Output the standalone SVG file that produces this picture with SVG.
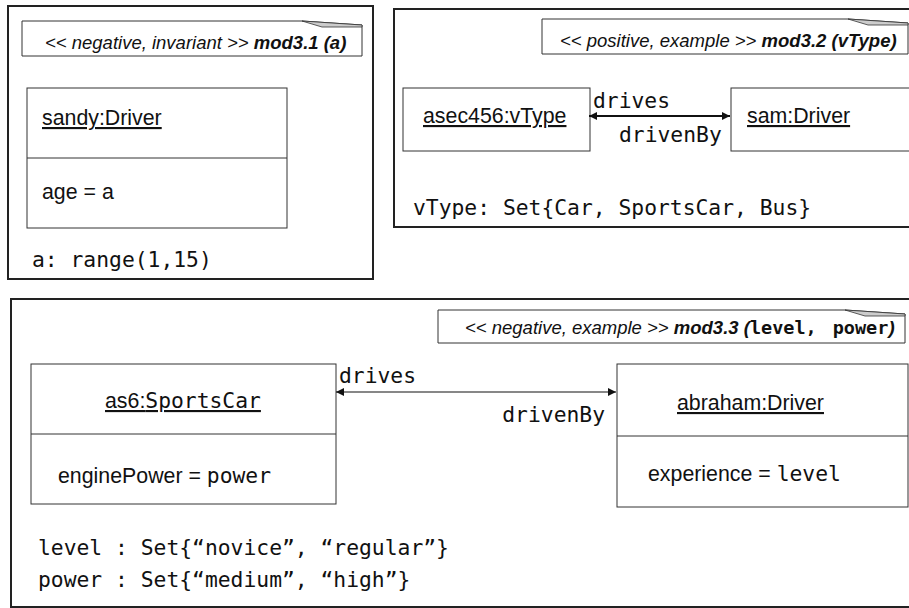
<svg xmlns="http://www.w3.org/2000/svg" width="909" height="608" viewBox="0 0 909 608">
<style>
.frame{fill:#fff;stroke:#222;stroke-width:2}
.box{fill:#fff;stroke:#333;stroke-width:1}
.note{fill:#fff;stroke:#333;stroke-width:1}
.fold{fill:#ccc;stroke:#333;stroke-width:0.8}
.sans{font-family:"Liberation Sans",Arial,sans-serif;font-size:21.33px;fill:#111}
.mono{font-family:"DejaVu Sans Mono","Liberation Mono",monospace;font-size:21.33px;fill:#111}
.ntxt{font-family:"Liberation Sans",Arial,sans-serif;font-size:18.5px;font-style:italic;fill:#111}
.b{font-weight:bold}
.nm{font-family:"DejaVu Sans Mono","Liberation Mono",monospace;font-weight:bold}
.u{text-decoration:underline}
.conn{stroke:#111;fill:none}
</style>
<defs>
<marker id="ah" viewBox="0 0 10 10" refX="10" refY="5" markerWidth="8" markerHeight="8" markerUnits="userSpaceOnUse" orient="auto-start-reverse">
<path d="M0,0 L10,5 L0,10 Z" fill="#111"/>
</marker>
</defs>
<rect width="909" height="608" fill="#fff"/>

<!-- Frame 1 -->
<g id="frame1">
<rect class="frame" x="8" y="6" width="365" height="273"/>
<g id="note1">
<path class="note" d="M22,21 H302 L362,25 V56 H22 Z"/>
<path class="fold" d="M302,21 L362,25 L362,27 L322,27 Z"/>
<text class="ntxt" x="45" y="49">&lt;&lt; negative, invariant &gt;&gt; <tspan class="b">mod3.1 (a)</tspan></text>
</g>
<g id="sandy">
<rect class="box" x="27" y="88" width="260" height="140"/>
<line class="box" x1="27" y1="158" x2="287" y2="158"/>
<text class="sans u" x="42" y="125">sandy:Driver</text>
<text class="sans" x="42" y="199">age = a</text>
</g>
<text class="mono" x="32" y="267">a: range(1,15)</text>
</g>

<!-- Frame 2 -->
<g id="frame2">
<rect class="frame" x="394" y="9" width="530" height="218"/>
<g id="note2">
<path class="note" d="M542,19 H848 L908,23 V54 H542 Z"/>
<path class="fold" d="M848,19 L908,23 L908,25 L868,25 Z"/>
<text class="ntxt" x="560" y="47">&lt;&lt; positive, example &gt;&gt; <tspan class="b">mod3.2 (vType)</tspan></text>
</g>
<g id="asec456">
<rect class="box" x="403" y="88" width="187" height="63"/>
<text class="sans u" x="423" y="123">asec456:vType</text>
</g>
<g id="sam">
<rect class="box" x="731" y="88" width="200" height="63"/>
<text class="sans u" x="747" y="123">sam:Driver</text>
</g>
<text class="mono" x="413" y="215">vType: Set{Car, SportsCar, Bus}</text>
</g>

<!-- Frame 3 -->
<g id="frame3">
<rect class="frame" x="11" y="299" width="920" height="308"/>
<g id="note3">
<path class="note" d="M438,310 H845 L905,314 V343 H438 Z"/>
<path class="fold" d="M845,310 L905,314 L905,316 L865,316 Z"/>
<text class="ntxt" x="465" y="334">&lt;&lt; negative, example &gt;&gt; <tspan class="b">mod3.3 (</tspan><tspan class="b nm" font-style="normal">level,</tspan><tspan class="b nm" font-style="normal" dx="16">power</tspan><tspan class="b">)</tspan></text>
</g>
<g id="as6">
<rect class="box" x="31" y="364" width="305" height="140"/>
<line class="box" x1="31" y1="434" x2="336" y2="434"/>
<text class="sans u" x="105" y="408">as6:<tspan class="mono">SportsCar</tspan></text>
<text class="sans" x="58" y="483">enginePower = <tspan class="mono">power</tspan></text>
</g>
<g id="abraham">
<rect class="box" x="617" y="364" width="291" height="143"/>
<line class="box" x1="617" y1="436" x2="908" y2="436"/>
<text class="sans u" x="677" y="410">abraham:Driver</text>
<text class="sans" x="648" y="481">experience = <tspan class="mono">level</tspan></text>
</g>
<text class="mono" x="38" y="555">level : Set{“novice”, “regular”}</text>
<text class="mono" x="38" y="587">power : Set{“medium”, “high”}</text>
</g>

<!-- Connectors -->
<g id="connectors">
<line class="conn" stroke-width="2" x1="589" y1="116" x2="730" y2="116" marker-start="url(#ah)" marker-end="url(#ah)"/>
<text class="mono" x="593" y="108">drives</text>
<text class="mono" x="619" y="142">drivenBy</text>
<line class="conn" stroke-width="1.2" x1="336" y1="392" x2="616" y2="392" marker-start="url(#ah)" marker-end="url(#ah)"/>
<text class="mono" x="339" y="383">drives</text>
<text class="mono" x="605" y="422" text-anchor="end">drivenBy</text>
</g>
</svg>
